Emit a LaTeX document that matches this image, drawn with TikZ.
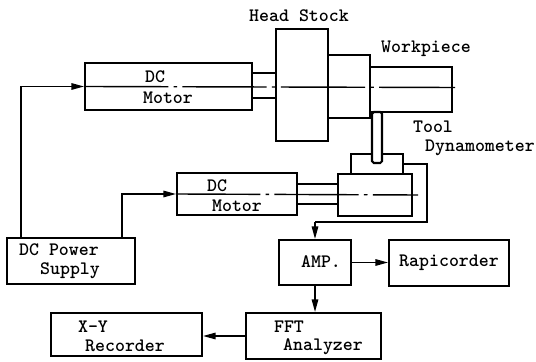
\documentclass[tikz,border=0pt]{standalone}
\usepackage{xcolor}
\usetikzlibrary{positioning,arrows.meta}

\begin{document}
\begin{tikzpicture}[
  font=\ttfamily\bfseries\fontsize{10.8}{12}\selectfont,
  wire/.style={line width=0.8pt, draw=black},
  line/.style={wire, -{Triangle[length=0.25cm,width=0.13cm]}},
  box/.style={draw=black, line width=1.2pt, inner sep=0pt, align=center},
  centre/.style={line width=0.8pt, draw=black, dash pattern=on 48pt off 3pt on 2pt off 3pt},
  txt/.style={inner sep=0pt}
]
\useasboundingbox (0,0) rectangle (10.72,7.22);

% Lathe
\node[box, minimum width=3.34cm, minimum height=0.94cm] (motorA) at (3.37,5.49) {};
\node[box, minimum width=0.48cm, minimum height=0.50cm] (shaftA) at (5.28,5.51) {};
\node[box, minimum width=1.04cm, minimum height=2.24cm] (stock) at (6.04,5.52) {};
\node[box, minimum width=0.84cm, minimum height=1.26cm] (chuck) at (6.98,5.49) {};
\node[box, minimum width=1.64cm, minimum height=0.90cm] (work) at (8.22,5.43) {};
\coordinate (axisA) at (9.10,5.47);

% Tool feed
\node[box, minimum width=2.40cm, minimum height=0.84cm] (motorB) at (4.74,3.34) {};
\node[box, minimum width=0.82cm, minimum height=0.40cm] (shaftB) at (6.35,3.34) {};
\node[box, minimum width=1.48cm, minimum height=0.84cm] (base) at (7.50,3.32) {};
\node[box, minimum width=1.04cm, minimum height=0.40cm] (dyno) at (7.54,3.94) {};
\node[box, fill=white, rounded corners=1pt, minimum width=0.20cm, minimum height=1.02cm] (tool) at (7.54,4.47) {};
\coordinate (axisB) at (8.36,3.32);

% Instruments
\node[box, minimum width=2.56cm, minimum height=0.92cm] (power) at (1.42,2.00) {};
\node[box, minimum width=1.44cm, minimum height=0.90cm] (amp) at (6.30,1.97) {};
\node[box, minimum width=2.40cm, minimum height=0.92cm] (rapi) at (8.98,1.96) {Rapicorder};
\node[box, minimum width=2.70cm, minimum height=0.92cm] (fft) at (6.27,0.50) {};
\node[box, minimum width=3.02cm, minimum height=0.86cm] (xy) at (2.53,0.53) {};
\coordinate (sigR) at (8.54,2.78);
\coordinate (sigA) at (6.30,2.78);

% Labels
\node[txt] (lblStock) at (5.98,6.90) {Head Stock};
\node[txt] (lblWork) at (8.52,6.24) {Workpiece};
\node[txt] (lblTool) at (8.66,4.69) {Tool};
\node[txt] (lblDyno) at (9.60,4.27) {Dynamometer};
\node[txt] (lblDcA) at (3.10,5.68) {DC};
\node[txt] (lblMotorA) at (3.36,5.26) {Motor};
\node[txt] (lblDcB) at (4.34,3.50) {DC};
\node[txt] (lblMotorB) at (4.74,3.10) {Motor};
\node[txt] (lblPowerA) at (1.18,2.22) {DC Power};
\node[txt] (lblPowerB) at (1.40,1.80) {Supply};
\node[txt] (lblAmp) at (6.42,1.98) {AMP.};
\node[txt] (lblXyA) at (1.86,0.69) {X-Y};
\node[txt] (lblXyB) at (2.50,0.31) {Recorder};
\node[txt] (lblFftA) at (5.78,0.69) {FFT};
\node[txt] (lblFftB) at (6.46,0.29) {Analyzer};

% Centre lines
\draw[centre] (motorA.west) -- (axisA);
\draw[centre] (motorB.west) -- (axisB);

% Signal paths
\draw[line] ([xshift=-1.00cm]power.north) |- (motorA.west);
\draw[line] ([xshift=1.02cm]power.north) |- (motorB.west);
\draw[wire] (dyno.east) -| (sigR) -- (sigA);
\draw[line] (sigA) -- (amp.north);
\draw[line] (amp.east) -- (amp.east -| rapi.west);
\draw[line] (amp.south) -- (amp.south |- fft.north);
\draw[line] (fft.west) -- (fft.west -| xy.east);
\end{tikzpicture}
\end{document}
